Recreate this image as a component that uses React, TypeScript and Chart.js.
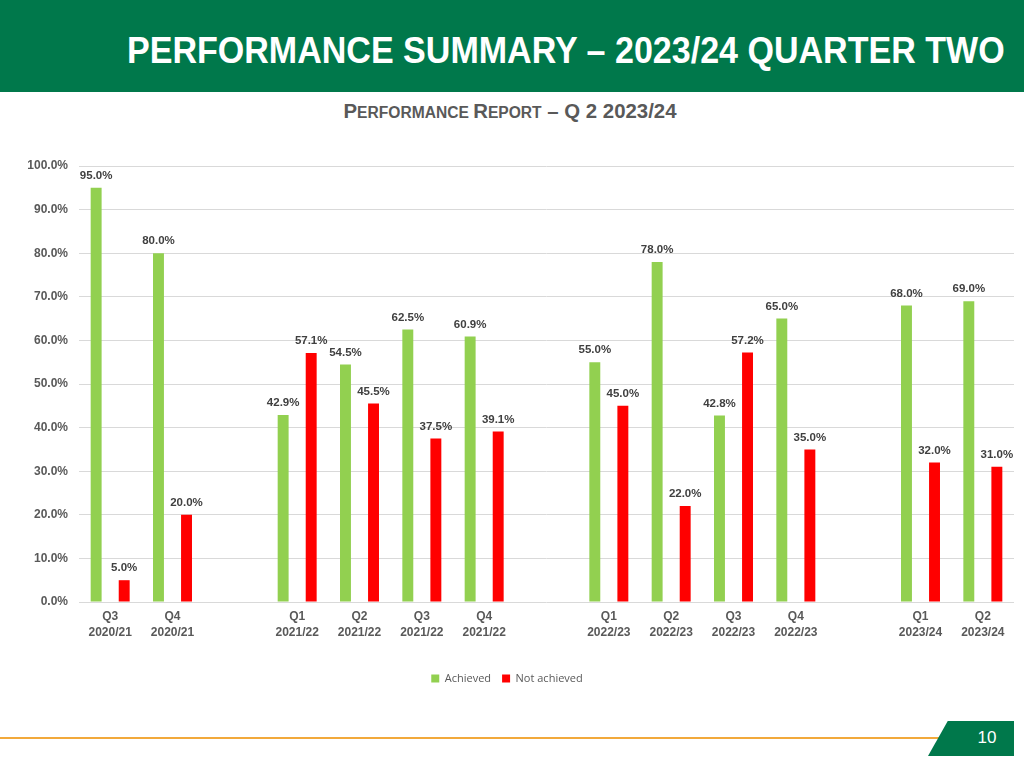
import React, { useEffect, useRef } from "react";
import { Chart, registerables } from "chart.js";

Chart.register(...registerables);

const categories: (string | string[])[] = [
  ["Q3", "2020/21"], ["Q4", "2020/21"], "",
  ["Q1", "2021/22"], ["Q2", "2021/22"], ["Q3", "2021/22"], ["Q4", "2021/22"], "",
  ["Q1", "2022/23"], ["Q2", "2022/23"], ["Q3", "2022/23"], ["Q4", "2022/23"], "",
  ["Q1", "2023/24"], ["Q2", "2023/24"],
];
const achieved: (number | null)[] = [95.0, 80.0, null, 42.9, 54.5, 62.5, 60.9, null, 55.0, 78.0, 42.8, 65.0, null, 68.0, 69.0];
const notAchieved: (number | null)[] = [5.0, 20.0, null, 57.1, 45.5, 37.5, 39.1, null, 45.0, 22.0, 57.2, 35.0, null, 32.0, 31.0];
const seriesNames = ["Achieved", "Not achieved"];
const yTicks = [0, 10, 20, 30, 40, 50, 60, 70, 80, 90, 100];

const FONT = "'Liberation Sans', Arial, sans-serif";

const dataLabels = {
  id: "dataLabels",
  afterDatasetsDraw(chart: any) {
    const ctx = chart.ctx;
    ctx.save();
    ctx.font = `bold 11.5px ${FONT}`;
    ctx.fillStyle = "#404040";
    ctx.textAlign = "center";
    ctx.textBaseline = "middle";
    chart.data.datasets.forEach((ds: any, i: number) => {
      const meta = chart.getDatasetMeta(i);
      meta.data.forEach((bar: any, j: number) => {
        const v = ds.data[j];
        if (v === null || v === undefined) return;
        ctx.fillText(v.toFixed(1) + "%", bar.x, bar.y - 12);
      });
    });
    ctx.restore();
  },
};

function BarChart() {
  const ref = useRef<HTMLCanvasElement>(null);
  useEffect(() => {
    if (!ref.current) return;
    const chart = new Chart(ref.current, {
      type: "bar",
      data: {
        labels: categories,
        datasets: [
          { label: seriesNames[0], data: achieved, backgroundColor: "#92D050", categoryPercentage: 0.9, barPercentage: 0.39 },
          { label: seriesNames[1], data: notAchieved, backgroundColor: "#FF0000", categoryPercentage: 0.9, barPercentage: 0.39 },
        ],
      },
      options: {
        animation: false,
        responsive: false,
        maintainAspectRatio: false,
        layout: { padding: { top: 26, right: 10, left: 0, bottom: 16 } },
        plugins: {
          legend: {
            position: "bottom",
            labels: {
              boxWidth: 8,
              boxHeight: 8,
              padding: 11,
              color: "#595959",
              font: { family: "'Open Sans', sans-serif", size: 11 },
            },
          },
          tooltip: { enabled: false },
        },
        scales: {
          x: {
            grid: { display: false, drawTicks: false },
            border: { display: false },
            ticks: {
              color: "#595959",
              font: { family: FONT, size: 12, weight: "bold", lineHeight: 1.3 },
              padding: 7,
              maxRotation: 0,
              autoSkip: false,
            },
            afterFit(scale: any) { scale.height = 60; },
          },
          y: {
            min: 0,
            max: 100,
            afterBuildTicks(scale: any) { scale.ticks = yTicks.map((v) => ({ value: v })); },
            grid: { color: "#D9D9D9", drawTicks: false, lineWidth: 1 },
            border: { display: false },
            ticks: {
              color: "#595959",
              font: { family: FONT, size: 12, weight: "bold" },
              padding: 11,
              callback: (v: any) => Number(v).toFixed(1) + "%",
            },
            afterFit(scale: any) { scale.width = 79; },
          },
        },
      },
      plugins: [dataLabels],
    });
    return () => chart.destroy();
  }, []);
  return <canvas ref={ref} width={1024} height={570} style={{ display: "block" }} />;
}

export default function App() {
  return (
    <div style={{ position: "absolute", left: 0, top: 0, width: 1024, height: 768, background: "#FFFFFF", overflow: "hidden", fontFamily: FONT }}>
      <div style={{ position: "absolute", left: 0, top: 0, width: 1024, height: 92, background: "#00784B" }}>
        <div style={{ position: "absolute", left: 127, top: 29, fontSize: 37, fontWeight: "bold", color: "#FFFFFF", whiteSpace: "nowrap", transform: "scaleX(0.92)", transformOrigin: "left top", lineHeight: "44px" }}>
          PERFORMANCE SUMMARY – 2023/24 QUARTER TWO
        </div>
      </div>
      <div style={{ position: "absolute", left: 0, width: 1024, top: 99, textAlign: "center", color: "#595959", fontWeight: "bold", whiteSpace: "nowrap", lineHeight: "24px" }}>
        <span style={{ display: "inline-block", transform: "translateX(-2px)" }}>
          <span style={{ fontSize: 20.4 }}>P</span><span style={{ fontSize: 15.6 }}>ERFORMANCE </span>
          <span style={{ fontSize: 20.4 }}>R</span><span style={{ fontSize: 15.6 }}>EPORT</span>
          <span style={{ fontSize: 20.4 }}> – Q 2 2023/24</span>
        </span>
      </div>
      <div style={{ position: "absolute", left: 0, top: 140, width: 1024, height: 570 }}>
        <BarChart />
      </div>
      <div style={{ position: "absolute", left: 0, top: 737, width: 950, height: 2, background: "#F2A93B" }} />
      <div style={{ position: "absolute", left: 928, top: 721, width: 86, height: 35, background: "#00784B", clipPath: "polygon(23% 0, 100% 0, 100% 100%, 0 100%)" }} />
      <div style={{ position: "absolute", left: 960, top: 727, width: 54, textAlign: "center", color: "#FFFFFF", fontSize: 17, lineHeight: "22px", fontFamily: "'Liberation Sans', Arial, sans-serif" }}>10</div>
    </div>
  );
}
